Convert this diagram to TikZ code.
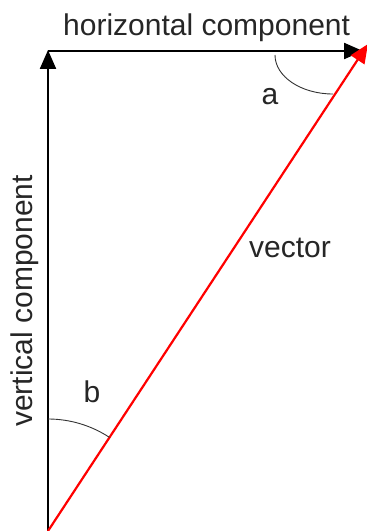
\documentclass[tikz,border=0pt]{standalone}
\usepackage{fontspec}
\setmainfont{Liberation Sans}
\usetikzlibrary{arrows.meta}
\begin{document}
\begin{tikzpicture}[x=1pt,y=1pt,
  comp/.style={line width=2.2pt,-{Triangle[length=19pt,width=16pt]}},
  vec/.style={line width=2.2pt,red,-{Triangle[length=19pt,width=16pt]}},
  anglearc/.style={line width=0.9pt,black!80},
  lbl/.style={inner sep=0pt,text=black!85,font=\fontsize{30}{36}\selectfont}]
\useasboundingbox (0,0) rectangle (367,531);
\coordinate (O) at (48,0);
\coordinate (V) at (48,481);
\coordinate (Hs) at (48,480);
\coordinate (H) at (363,480);
\coordinate (R) at (368,487);
\coordinate (As) at (275,476);
\draw[comp] (O) -- (V);
\draw[comp] (Hs) -- (H);
\draw[vec] (O) -- (R);
\draw[anglearc] (As) arc[start angle=180,end angle=270,x radius=58,y radius=39];
\draw[anglearc] ([yshift=112pt]O) arc[start angle=90,end angle=56.7,radius=112];
\node[lbl,anchor=base west] (th) at (63,495) {horizontal component};
\node[lbl,anchor=base west,rotate=90] (tv) at (32,104) {vertical component};
\node[lbl,anchor=base] (tvec) at (290,273) {vector};
\node[lbl,anchor=base] (ta) at (270,426) {a};
\node[lbl,anchor=base] (tb) at (92,128) {b};
\end{tikzpicture}
\end{document}
